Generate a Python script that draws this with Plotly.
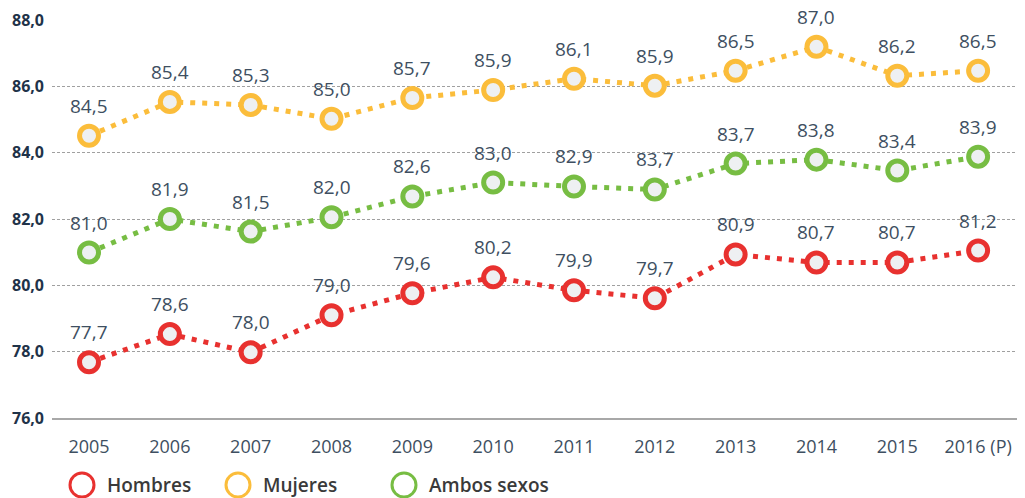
import plotly.graph_objects as go

years = ["2005", "2006", "2007", "2008", "2009", "2010", "2011", "2012", "2013", "2014", "2015", "2016 (P)"]

# point positions
hombres = [77.68, 78.53, 77.98, 79.10, 79.76, 80.24, 79.85, 79.61, 80.93, 80.69, 80.69, 81.05]
mujeres = [84.51, 85.53, 85.44, 85.02, 85.65, 85.89, 86.23, 86.02, 86.47, 87.19, 86.32, 86.47]
ambos = [80.99, 82.00, 81.62, 82.05, 82.68, 83.10, 82.98, 82.89, 83.67, 83.79, 83.46, 83.88]

# printed labels
hombres_lbl = ["77,7", "78,6", "78,0", "79,0", "79,6", "80,2", "79,9", "79,7", "80,9", "80,7", "80,7", "81,2"]
mujeres_lbl = ["84,5", "85,4", "85,3", "85,0", "85,7", "85,9", "86,1", "85,9", "86,5", "87,0", "86,2", "86,5"]
ambos_lbl = ["81,0", "81,9", "81,5", "82,0", "82,6", "83,0", "82,9", "83,7", "83,7", "83,8", "83,4", "83,9"]

series_names = ["Hombres", "Mujeres", "Ambos sexos"]
colors = ["#e8312f", "#fbbd3b", "#77bd43"]

y_ticks = [76, 78, 80, 82, 84, 86, 88]
y_tick_text = ["76,0", "78,0", "80,0", "82,0", "84,0", "86,0", "88,0"]

FONT = "Open Sans"
x = list(range(len(years)))

# page offset (body margin) = 8px
OFF = 8
L, T, PW, PH = 44, 11, 973, 399

fig = go.Figure()
annotations = []
for vals, lbls, name, col in zip([hombres, mujeres, ambos], [hombres_lbl, mujeres_lbl, ambos_lbl], series_names, colors):
    fig.add_trace(go.Scatter(
        x=x, y=vals, name=name, mode="lines+markers",
        line=dict(color=col, width=5, dash="5px,7px"),
        marker=dict(symbol="circle", size=19, color="#eef0f2", line=dict(color=col, width=5)),
        cliponaxis=False, showlegend=False,
    ))
    for xi, v, t in zip(x, vals, lbls):
        annotations.append(dict(x=xi, y=v, text=t, showarrow=False, xanchor="center", yanchor="middle",
                                yshift=30, font=dict(family=FONT, size=19, color="#3e4f61")))

# legend drawn manually (large open circles)
legend_x = [82, 238, 404]
legend_y = 485
shapes = []
def px2x(px):
    return (px - OFF - L) / PW
def py2y(py):
    return (T + OFF + PH - py) / PH
for lx, name, col in zip(legend_x, series_names, colors):
    shapes.append(dict(type="circle", xref="paper", yref="paper",
                       x0=px2x(lx - 12), x1=px2x(lx + 12),
                       y0=py2y(legend_y + 12), y1=py2y(legend_y - 12),
                       line=dict(color=col, width=3), fillcolor="rgba(0,0,0,0)"))
    annotations.append(dict(xref="paper", yref="paper", x=px2x(lx + 23), y=py2y(legend_y),
                            text=name, showarrow=False, xanchor="left", yanchor="middle",
                            font=dict(family=FONT, size=19, color="#3a3a3a", weight=600)))

fig.update_layout(
    width=1017, height=490,
    margin=dict(l=L, r=0, t=T, b=490 - T - PH),
    paper_bgcolor="white", plot_bgcolor="white",
    shapes=shapes, annotations=annotations,
    xaxis=dict(range=[-0.458, 11.58], tickmode="array", tickvals=x, ticktext=years,
               showgrid=False, zeroline=False, showline=True, linecolor="#a8a8a8", linewidth=1.5,
               ticks="", ticklabelstandoff=12,
               tickfont=dict(family=FONT, size=18, color="#3e4f61"), fixedrange=True),
    yaxis=dict(range=[76, 88.03], tickmode="array", tickvals=y_ticks, ticktext=y_tick_text,
               showgrid=True, gridcolor="#a0a0a0", gridwidth=1, griddash="3px,2px",
               zeroline=False, showline=False, ticks="", ticklabelstandoff=7,
               tickfont=dict(family=FONT, size=16, color="#1f3349", weight="bold"), fixedrange=True),
)

fig.write_html("out.html")
